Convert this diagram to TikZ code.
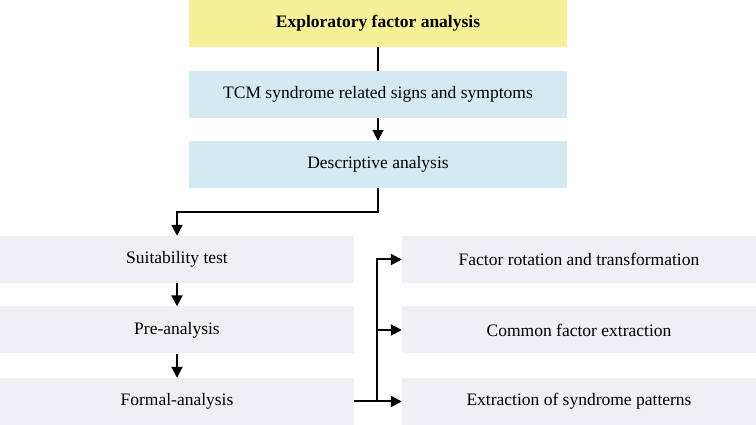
\documentclass[tikz,border=0pt]{standalone}
\usepackage{fontspec}
\setmainfont{Liberation Serif}
\usetikzlibrary{arrows.meta}
\definecolor{efayellow}{RGB}{246,241,153}
\definecolor{stepblue}{RGB}{211,234,240}
\definecolor{stepgrey}{RGB}{240,239,243}
\begin{document}
\begin{tikzpicture}[x=1pt,y=1pt,
        box/.style={inner sep=0pt, minimum height=47pt, font=\fontsize{17.5}{20}\selectfont},
        wide/.style={box, minimum width=378pt},
        half/.style={box, fill=stepgrey, minimum width=354pt},
        arr/.style={line width=2pt, -{Triangle[length=11pt,width=11pt]}},
        plain/.style={line width=2pt}]
            \useasboundingbox (0,0) rectangle (756,425);

            \node[wide, fill=efayellow, font=\fontsize{17.5}{20}\selectfont\bfseries] at (378, 401.5) (efa) {Exploratory factor analysis};
            \node[wide, fill=stepblue] at (378, 330.5) (tcm) {TCM syndrome related signs and symptoms};
            \node[wide, fill=stepblue] at (378, 260.5) (desc) {Descriptive analysis};

            \node[half] at (177, 165.5) (suit) {Suitability test};
            \node[half] at (177, 95) (pre) {Pre-analysis};
            \node[half] at (177, 23.5) (formal) {Formal-analysis};

            \node[half] at (579, 165.5) (rot) {Factor rotation and transformation};
            \node[half] at (579, 95) (common) {Common factor extraction};
            \node[half] at (579, 23.5) (patterns) {Extraction of syndrome patterns};

            \coordinate (bus) at (377, 23.5);

            \draw[plain] (efa) -- (tcm);
            \draw[arr] (tcm) -- (desc);
            \draw[arr] (desc.south) -- ++(0,-24) -| (suit.north);
            \draw[arr] (suit) -- (pre);
            \draw[arr] (pre) -- (formal);

            \draw[arr] (formal.east) -- (patterns.west);
            \draw[arr] (bus) |- (rot.west);
            \draw[arr] (bus) |- (common.west);
        \end{tikzpicture}
\end{document}
